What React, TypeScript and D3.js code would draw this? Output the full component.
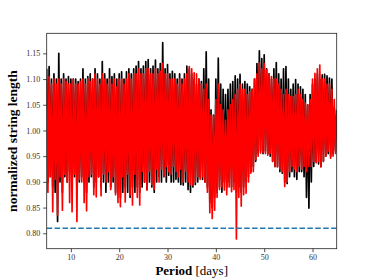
import * as d3 from "d3";
import { useRef, useEffect } from "react";

// periodogram samples, one value every 0.25 day from 5 to 65
const periodStart = 5;
const periodStep = 0.25;

const blackValues = [
  1.12, 0.90, 1.124, 0.91, 1.10, 0.89, 1.11, 0.88, 1.10, 0.823, 1.150, 0.90, 1.10, 0.88, 1.11, 0.91,
  1.10, 0.90, 1.105, 0.92, 1.10, 0.90, 1.10, 0.91, 1.10, 0.88, 1.095, 0.90, 1.10, 0.91, 1.12, 0.90,
  1.10, 0.88, 1.105, 0.90, 1.11, 0.91, 1.10, 0.89, 1.12, 0.90, 1.11, 0.91, 1.10, 0.89, 1.134, 0.90,
  1.11, 0.88, 1.10, 0.90, 1.12, 0.89, 1.105, 0.90, 1.11, 0.88, 1.10, 0.89, 1.11, 0.87, 1.114, 0.88,
  1.10, 0.89, 1.114, 0.88, 1.12, 0.87, 1.11, 0.89, 1.12, 0.88, 1.125, 0.89, 1.134, 0.88, 1.12, 0.89,
  1.125, 0.90, 1.134, 0.885, 1.138, 0.90, 1.12, 0.89, 1.125, 0.88, 1.137, 0.90, 1.12, 0.91, 1.13, 0.90,
  1.171, 0.91, 1.12, 0.90, 1.128, 0.913, 1.11, 0.90, 1.115, 0.90, 1.11, 0.905, 1.10, 0.90, 1.11, 0.895,
  1.10, 0.894, 1.11, 0.90, 1.125, 0.885, 1.12, 0.88, 1.11, 0.89, 1.10, 0.895, 1.09, 0.90, 1.10, 0.91,
  1.095, 0.905, 1.12, 0.90, 1.153, 0.89, 1.10, 0.86, 1.04, 0.85, 1.03, 0.87, 1.10, 0.88, 1.141, 0.89,
  1.09, 0.88, 1.08, 0.90, 1.07, 0.89, 1.08, 0.90, 1.09, 0.89, 1.095, 0.90, 1.106, 0.88, 1.10, 0.89,
  1.109, 0.88, 1.09, 0.89, 1.095, 0.90, 1.09, 0.91, 1.085, 0.92, 1.08, 0.93, 1.10, 0.94, 1.13, 0.955,
  1.155, 0.96, 1.14, 0.955, 1.147, 0.96, 1.12, 0.955, 1.11, 0.95, 1.10, 0.94, 1.12, 0.93, 1.132, 0.93,
  1.11, 0.92, 1.10, 0.917, 1.12, 0.90, 1.124, 0.897, 1.10, 0.91, 1.08, 0.92, 1.09, 0.91, 1.099, 0.905,
  1.09, 0.92, 1.085, 0.92, 1.08, 0.91, 1.07, 0.87, 1.05, 0.849, 1.07, 0.90, 1.09, 0.93, 1.10, 0.94,
  1.11, 0.935, 1.10, 0.93, 1.108, 0.94, 1.109, 0.95, 1.106, 0.955, 1.102, 0.95, 1.10, 0.955, 1.044, 0.96,
  1.04,
];

const redValues = [
  1.10, 0.88, 1.105, 0.91, 1.09, 0.842, 1.10, 0.905, 1.09, 0.835, 1.10, 0.91, 1.09, 0.845, 1.10, 0.915,
  1.095, 0.90, 1.09, 0.86, 1.09, 0.842, 1.10, 0.915, 1.09, 0.823, 1.09, 0.905, 1.095, 0.90, 1.10, 0.86,
  1.09, 0.844, 1.10, 0.91, 1.095, 0.915, 1.10, 0.875, 1.11, 0.871, 1.10, 0.91, 1.09, 0.873, 1.11, 0.915,
  1.10, 0.90, 1.09, 0.92, 1.10, 0.885, 1.09, 0.91, 1.10, 0.875, 1.085, 0.86, 1.10, 0.852, 1.10, 0.91,
  1.09, 0.861, 1.10, 0.915, 1.11, 0.875, 1.10, 0.855, 1.11, 0.915, 1.11, 0.87, 1.12, 0.855, 1.11, 0.92,
  1.11, 0.90, 1.12, 0.884, 1.12, 0.92, 1.11, 0.895, 1.11, 0.886, 1.12, 0.925, 1.11, 0.90, 1.115, 0.925,
  1.13, 0.911, 1.11, 0.93, 1.11, 0.92, 1.10, 0.915, 1.10, 0.93, 1.10, 0.92, 1.09, 0.91, 1.10, 0.925,
  1.09, 0.90, 1.10, 0.92, 1.11, 0.90, 1.124, 0.895, 1.12, 0.894, 1.112, 0.90, 1.11, 0.91, 1.10, 0.905,
  1.09, 0.91, 1.08, 0.90, 1.09, 0.88, 1.06, 0.84, 1.03, 0.829, 1.028, 0.845, 1.06, 0.87, 1.09, 0.885,
  1.05, 0.89, 1.04, 0.884, 1.02, 0.875, 1.04, 0.89, 1.05, 0.881, 1.06, 0.885, 1.07, 0.789, 1.08, 0.87,
  1.09, 0.853, 1.08, 0.875, 1.08, 0.878, 1.07, 0.90, 1.075, 0.917, 1.08, 0.92, 1.10, 0.943, 1.11, 0.95,
  1.131, 0.956, 1.12, 0.958, 1.13, 0.955, 1.118, 0.952, 1.11, 0.956, 1.105, 0.94, 1.10, 0.93, 1.10, 0.929,
  1.09, 0.925, 1.08, 0.92, 1.07, 0.891, 1.08, 0.90, 1.07, 0.92, 1.066, 0.93, 1.066, 0.925, 1.07, 0.92,
  1.08, 0.93, 1.07, 0.925, 1.06, 0.93, 1.053, 0.92, 1.05, 0.93, 1.06, 0.93, 1.10, 0.94, 1.111, 0.937,
  1.12, 0.94, 1.127, 0.929, 1.10, 0.94, 1.10, 0.95, 1.09, 0.96, 1.09, 0.946, 1.08, 0.95, 1.06, 0.955,
  1.03,
];

const threshold = 0.81;
const xTicks = [10, 20, 30, 40, 50, 60];
const yTicks = [0.8, 0.85, 0.9, 0.95, 1.0, 1.05, 1.1, 1.15];

const width = 374;
const height = 280;
const marginTop = 33.3;
const marginRight = 37.3;
const marginBottom = 31.3;
const marginLeft = 46.7;
const serif = "'Liberation Serif', 'DejaVu Serif', serif";

export default function App() {
  const gx = useRef<SVGGElement>(null);
  const gy = useRef<SVGGElement>(null);

  const x = d3.scaleLinear().domain([5, 65]).range([marginLeft, width - marginRight]);
  const y = d3.scaleLinear().domain([0.77, 1.189]).range([height - marginBottom, marginTop]);

  const line = d3
    .line<number>()
    .x((_, i) => x(periodStart + i * periodStep))
    .y((d) => y(d));

  useEffect(() => {
    const ax = d3
      .select(gx.current!)
      .call(d3.axisBottom(x).tickValues(xTicks).tickSize(3.5).tickSizeOuter(0).tickPadding(2.5));
    const ay = d3
      .select(gy.current!)
      .call(
        d3
          .axisLeft(y)
          .tickValues(yTicks)
          .tickFormat(d3.format(".2f"))
          .tickSize(3.5)
          .tickSizeOuter(0)
          .tickPadding(3)
      );
    for (const a of [ax, ay]) {
      a.select(".domain").remove();
      a.selectAll("line").attr("stroke", "#222").attr("stroke-width", 0.8);
      a.selectAll("text").attr("font-family", serif).attr("font-size", 8).attr("fill", "#333");
    }
  }, []);

  const x0 = marginLeft;
  const x1 = width - marginRight;
  const y0 = marginTop;
  const y1 = height - marginBottom;

  return (
    <svg width={width} height={height} style={{ position: "absolute", left: 0, top: 0 }}>
      <rect width={width} height={height} fill="#fff" />
      <defs>
        <clipPath id="plot">
          <rect x={x0} y={y0} width={x1 - x0} height={y1 - y0} />
        </clipPath>
      </defs>
      <g clipPath="url(#plot)">
        <path d={line(blackValues) ?? ""} fill="none" stroke="#000" strokeWidth={1.7} strokeLinejoin="round" />
        <path d={line(redValues) ?? ""} fill="none" stroke="#ff0000" strokeWidth={1.7} strokeLinejoin="round" />
        <line
          x1={x0}
          x2={x1}
          y1={y(threshold)}
          y2={y(threshold)}
          stroke="#1f77b4"
          strokeWidth={1.5}
          strokeDasharray="5.5,2.4"
        />
      </g>
      <rect x={x0} y={y0} width={x1 - x0} height={y1 - y0} fill="none" stroke="#222" strokeWidth={0.8} />
      <g ref={gx} transform={`translate(0,${y1})`} />
      <g ref={gy} transform={`translate(${x0},0)`} />
      <text
        transform={`translate(17,${(y0 + y1) / 2}) rotate(-90)`}
        textAnchor="middle"
        fontFamily={serif}
        fontSize={13.5}
        fontWeight="bold"
      >
        normalized string length
      </text>
      <text x={(x0 + x1) / 2} y={274.5} textAnchor="middle" fontFamily={serif} fontSize={13}>
        <tspan fontWeight="bold">Period</tspan> [days]
      </text>
    </svg>
  );
}
